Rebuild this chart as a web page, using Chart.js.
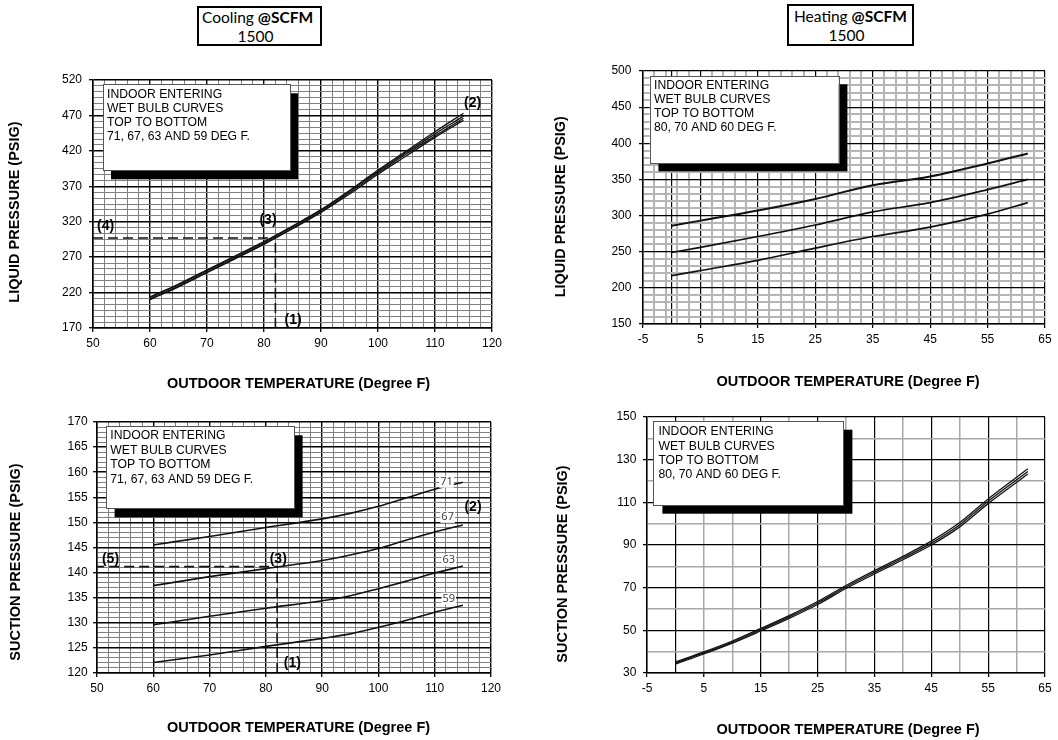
<!DOCTYPE html>
<html lang="en">
<head>
<meta charset="UTF-8">
<title>Cooling / Heating pressure charts @ 1500 SCFM</title>
<script src="https://cdn.jsdelivr.net/npm/chart.js"></script>
<style>
    body { margin: 0; background: #fff; }
    .page { position: relative; width: 1058px; height: 740px; overflow: hidden; }
    .page canvas { position: absolute; display: block; }
    /* "Cooling @SCFM 1500" header boxes */
    .head {
        position: absolute;
        box-sizing: border-box;
        border: 2px solid #000;
        background: #fff;
        font-family: Lato, "Open Sans", sans-serif;
        font-size: 15.5px;
        line-height: 19px;
        color: #000;
    }
    .head .l1 { padding-left: 3px; white-space: nowrap; }
    .head .l2 { text-align: center; padding-right: 8px; }
</style>
</head>
<body>
<div class="page">
    <div class="head" style="left:197px; top:6px; width:125px; height:40px;">
        <div class="l1">Cooling <b>@SCFM</b></div>
        <div class="l2">1500</div>
    </div>
    <div class="head" style="left:787px; top:4px; width:127px; height:42px;">
        <div class="l1" style="padding-left:5px; padding-top:1px;">Heating <b>@SCFM</b></div>
        <div class="l2">1500</div>
    </div>
    <canvas id="coolLiquid" width="529" height="395" style="left:0; top:0;"></canvas>
    <canvas id="heatLiquid" width="529" height="395" style="left:529px; top:0;"></canvas>
    <canvas id="coolSuction" width="529" height="345" style="left:0; top:395px;"></canvas>
    <canvas id="heatSuction" width="529" height="345" style="left:529px; top:395px;"></canvas>
</div>

<script>
    // ---- data ----

    // cooling, liquid pressure (PSIG), wet bulb 71/67/63/59
    const coolTemps = [60, 65, 70, 75, 80, 85, 90, 95, 100, 105, 110, 115];
    const coolLiquid71 = [214, 232, 252, 272, 292, 314, 337, 364, 393, 420, 447, 473];
    const coolLiquid67 = [213, 231, 251, 271, 291, 313, 336, 363, 391, 418, 444, 469];
    const coolLiquid63 = [211, 229, 249, 269, 289, 311, 334, 361, 389, 416, 441, 466];
    const coolLiquid59 = [210, 228, 248, 268, 288, 310, 333, 359, 387, 413, 439, 463];

    // cooling, suction pressure (PSIG)
    const coolSuctionTemps = [60, 70, 80, 90, 95, 100, 105, 110, 115];
    const coolSuction71 = [145.5, 147.2, 149.0, 150.7, 151.8, 153.2, 154.9, 156.6, 158.0];
    const coolSuction67 = [137.4, 139.2, 140.8, 142.4, 143.5, 144.8, 146.5, 148.1, 149.5];
    const coolSuction63 = [129.6, 131.3, 132.9, 134.4, 135.4, 136.8, 138.3, 139.9, 141.3];
    const coolSuction59 = [122.1, 123.6, 125.3, 126.9, 127.8, 129.1, 130.5, 132.1, 133.5];

    // heating, liquid pressure (PSIG), wet bulb 80/70/60
    const heatTemps = [0, 5, 15, 25, 35, 45, 55, 62];
    const heatLiquid80 = [286, 293, 307, 323, 342, 354, 372, 386];
    const heatLiquid70 = [249, 256, 271, 287, 305, 318, 336, 350];
    const heatLiquid60 = [217, 224, 238, 255, 271, 284, 302, 318];

    // heating, suction pressure (PSIG)
    const heatSuctionTemps = [0, 5, 10, 15, 20, 25, 30, 35, 40, 45, 50, 55, 62];
    const heatSuction80 = [35.2, 39.9, 45.0, 50.9, 56.9, 63.5, 71.0, 78.0, 84.7, 91.8, 100.5, 111.6, 125.7];
    const heatSuction70 = [34.7, 39.4, 44.5, 50.3, 56.3, 62.8, 70.3, 77.2, 83.9, 90.9, 99.5, 110.5, 124.5];
    const heatSuction60 = [34.2, 38.9, 44.0, 49.7, 55.6, 62.1, 69.6, 76.4, 83.1, 90.0, 98.5, 109.4, 123.3];

    // worked example guide lines: [outdoor temp, pressure]
    const coolLiquidGuide = [82, 297];
    const coolSuctionGuide = [82, 141.2];

    // tick labels
    const coolTempLabels = [50, 60, 70, 80, 90, 100, 110, 120];
    const heatTempLabels = [-5, 5, 15, 25, 35, 45, 55, 65];
    const coolLiquidLabels = [170, 220, 270, 320, 370, 420, 470, 520];
    const coolSuctionLabels = [120, 125, 130, 135, 140, 145, 150, 155, 160, 165, 170];
    const heatLiquidLabels = [150, 200, 250, 300, 350, 400, 450, 500];
    const heatSuctionLabels = [30, 50, 70, 90, 110, 130, 150];

    const coolNote = ['INDOOR ENTERING', 'WET BULB CURVES', 'TOP TO BOTTOM', '71, 67, 63 AND 59 DEG F.'];
    const heatNote = ['INDOOR ENTERING', 'WET BULB CURVES', 'TOP TO BOTTOM', '80, 70 AND 60 DEG F.'];

    const ARIAL = '"Liberation Sans", Arial, sans-serif';

    // evenly spaced grid positions (minor gridlines)
    function steps(min, max, n) {
        const out = [];
        for (let i = 0; i <= n; i++) out.push(min + (max - min) * i / n);
        return out;
    }
    const near = (list, v) => list.some(t => Math.abs(t - v) < 1e-6);

    function curve(xs, ys, width) {
        return {
            data: xs.map((x, i) => ({ x: x, y: ys[i] })),
            borderColor: '#111',
            borderWidth: width,
            pointRadius: 0,
            cubicInterpolationMode: 'monotone',
            fill: false
        };
    }

    function guide(g, xMin, yMin) {
        const style = { borderColor: '#111', borderWidth: 1.6, borderDash: [10, 5], pointRadius: 0, tension: 0, fill: false };
        return [
            Object.assign({ data: [{ x: xMin, y: g[1] }, { x: g[0], y: g[1] }] }, style),
            Object.assign({ data: [{ x: g[0], y: yMin }, { x: g[0], y: g[1] }] }, style)
        ];
    }

    // boxes, axis titles and callouts
    const notesPlugin = {
        id: 'notes',
        beforeDatasetsDraw(chart) {
            const o = chart.options.plugins.notes;
            const ctx = chart.ctx, a = chart.chartArea, b = o.box;
            const bx = a.left + b.dx, by = a.top + b.dy;
            ctx.save();
            ctx.fillStyle = '#000';
            ctx.fillRect(bx + b.sx, by + b.sy, b.w, b.h);
            ctx.fillStyle = '#fff';
            ctx.fillRect(bx, by, b.w, b.h);
            ctx.strokeStyle = '#555';
            ctx.lineWidth = 1;
            ctx.strokeRect(Math.round(bx) + 0.5, Math.round(by) + 0.5, b.w, b.h);
            ctx.fillStyle = '#000';
            ctx.font = '12.2px ' + ARIAL;
            ctx.textBaseline = 'middle';
            b.lines.forEach((t, i) => ctx.fillText(t, bx + b.tx, by + b.ty + i * b.gap));
            ctx.restore();
        },
        afterDraw(chart) {
            const o = chart.options.plugins.notes;
            const ctx = chart.ctx;
            ctx.save();
            ctx.fillStyle = '#000';
            ctx.textAlign = 'center';
            ctx.textBaseline = 'middle';
            ctx.font = 'bold 14.5px ' + ARIAL;
            ctx.fillText(o.xTitle.text, o.xTitle.x, o.xTitle.y);
            ctx.save();
            ctx.translate(o.yTitle.x, o.yTitle.y);
            ctx.rotate(-Math.PI / 2);
            ctx.fillText(o.yTitle.text, 0, 0);
            ctx.restore();
            (o.marks || []).forEach(m => {
                const px = chart.scales.x.getPixelForValue(m.x);
                const py = chart.scales.y.getPixelForValue(m.y);
                ctx.font = m.small ? '11px "Open Sans", sans-serif' : 'bold 14px ' + ARIAL;
                if (m.small) {
                    const w = ctx.measureText(m.text).width;
                    ctx.fillStyle = '#fff';
                    ctx.fillRect(px - w / 2 - 1, py - 6, w + 2, 12);
                    ctx.fillStyle = '#333';
                } else {
                    ctx.fillStyle = '#000';
                }
                ctx.fillText(m.text, px, py);
            });
            ctx.restore();
        }
    };

    function axis(s, cfg) {
        return {
            type: 'linear',
            min: s.min,
            max: s.max,
            afterBuildTicks: (scale) => { scale.ticks = s.grid.map(v => ({ value: v })); },
            afterFit: (scale) => {
                if (scale.isHorizontal()) scale.height = cfg.xHeight; else scale.width = cfg.yWidth;
            },
            ticks: {
                autoSkip: false,
                maxRotation: 0,
                padding: s.pad,
                color: '#000',
                font: { family: ARIAL, size: 12 },
                callback: (v) => near(s.labels, v) ? String(Math.round(v)) : ''
            },
            grid: {
                color: (c) => near(s.dark, c.tick.value) ? '#000' : cfg.minorColor,
                lineWidth: (c) => near(s.dark, c.tick.value) ? cfg.majorWidth : cfg.minorWidth,
                tickColor: (c) => near(s.labels, c.tick.value) ? '#000' : 'rgba(0,0,0,0)',
                tickLength: 4,
                tickWidth: 1.3
            },
            border: { display: true, color: '#000', width: 1.5 }
        };
    }

    function makeChart(id, cfg) {
        new Chart(document.getElementById(id), {
            type: 'line',
            data: { datasets: cfg.datasets },
            options: {
                responsive: false,
                animation: false,
                events: [],
                layout: { padding: { left: 0, top: cfg.top, right: cfg.right, bottom: 0 } },
                scales: { x: axis(cfg.x, cfg), y: axis(cfg.y, cfg) },
                plugins: {
                    legend: { display: false },
                    tooltip: { enabled: false },
                    notes: cfg.notes
                }
            },
            plugins: [notesPlugin]
        });
    }

    // ---- cooling: liquid pressure ----
    makeChart('coolLiquid', {
        top: 80, right: 37, yWidth: 93, xHeight: 67,
        minorColor: '#808080', minorWidth: 1, majorWidth: 1.4,
        x: { min: 50, max: 120, grid: steps(50, 120, 35), labels: coolTempLabels, dark: coolTempLabels, pad: 4 },
        y: { min: 170, max: 520, grid: steps(170, 520, 42), labels: coolLiquidLabels, dark: coolLiquidLabels, pad: 7 },
        datasets: [
            curve(coolTemps, coolLiquid71, 1.3),
            curve(coolTemps, coolLiquid67, 1.3),
            curve(coolTemps, coolLiquid63, 1.3),
            curve(coolTemps, coolLiquid59, 1.3)
        ].concat(guide(coolLiquidGuide, 50, 170)),
        notes: {
            box: { dx: 10, dy: 4.3, w: 187, h: 86, sx: 8, sy: 9, tx: 4, ty: 10.7, gap: 14, lines: coolNote },
            yTitle: { text: 'LIQUID PRESSURE (PSIG)', x: 15, y: 212 },
            xTitle: { text: 'OUTDOOR TEMPERATURE (Degree F)', x: 298.5, y: 383.5 },
            marks: [
                { text: '(1)', x: 85.1, y: 181 },
                { text: '(2)', x: 116.6, y: 487.5 },
                { text: '(3)', x: 80.7, y: 322 },
                { text: '(4)', x: 52.2, y: 313.7 }
            ]
        }
    });

    // ---- heating: liquid pressure ----
    makeChart('heatLiquid', {
        top: 71, right: 13, yWidth: 114, xHeight: 71,
        minorColor: '#b5b5b5', minorWidth: 2, majorWidth: 1.2,
        x: { min: -5, max: 65, grid: steps(-5, 65, 35).concat([0]), labels: heatTempLabels, dark: heatTempLabels.concat([0]), pad: 4 },
        y: { min: 150, max: 500, grid: steps(150, 500, 35), labels: heatLiquidLabels, dark: heatLiquidLabels, pad: 7.6 },
        datasets: [
            curve(heatTemps, heatLiquid80, 2),
            curve(heatTemps, heatLiquid70, 1.7),
            curve(heatTemps, heatLiquid60, 1.7)
        ],
        notes: {
            box: { dx: 6.7, dy: 5, w: 189, h: 87, sx: 8.7, sy: 8.3, tx: 4.3, ty: 10, gap: 14, lines: heatNote },
            yTitle: { text: 'LIQUID PRESSURE (PSIG)', x: 31.7, y: 206.7 },
            xTitle: { text: 'OUTDOOR TEMPERATURE (Degree F)', x: 319, y: 381.7 }
        }
    });

    // ---- cooling: suction pressure ----
    makeChart('coolSuction', {
        top: 27, right: 38, yWidth: 97, xHeight: 67,
        minorColor: '#808080', minorWidth: 1, majorWidth: 1.4,
        x: { min: 50, max: 120, grid: steps(50, 120, 35), labels: coolTempLabels, dark: coolTempLabels, pad: 4.5 },
        y: { min: 120, max: 170, grid: steps(120, 170, 50), labels: coolSuctionLabels, dark: coolSuctionLabels, pad: 5.4 },
        datasets: [
            curve(coolSuctionTemps, coolSuction71, 1.6),
            curve(coolSuctionTemps, coolSuction67, 1.6),
            curve(coolSuctionTemps, coolSuction63, 1.6),
            curve(coolSuctionTemps, coolSuction59, 1.6)
        ].concat(guide(coolSuctionGuide, 49.5, 120)),
        notes: {
            box: { dx: 9.3, dy: 4.3, w: 188, h: 82, sx: 8.3, sy: 9, tx: 4, ty: 9.7, gap: 14.4, lines: coolNote },
            yTitle: { text: 'SUCTION PRESSURE (PSIG)', x: 15.7, y: 167 },
            xTitle: { text: 'OUTDOOR TEMPERATURE (Degree F)', x: 298.5, y: 333.3 },
            marks: [
                { text: '(1)', x: 84.7, y: 121.9 },
                { text: '(2)', x: 116.8, y: 153.1 },
                { text: '(3)', x: 82.2, y: 142.7 },
                { text: '(5)', x: 52.4, y: 142.7 },
                { text: '71', x: 112.1, y: 158.1, small: true },
                { text: '67', x: 112.3, y: 151.1, small: true },
                { text: '63', x: 112.5, y: 142.5, small: true },
                { text: '59', x: 112.5, y: 134.8, small: true }
            ]
        }
    });

    // ---- heating: suction pressure ----
    makeChart('heatSuction', {
        top: 22, right: 13, yWidth: 118, xHeight: 67,
        minorColor: '#a8a8a8', minorWidth: 1.5, majorWidth: 1.2,
        x: { min: -5, max: 65, grid: steps(-5, 65, 14), labels: heatTempLabels, dark: [-5, 0, 15, 25, 35, 45, 55, 65], pad: 4 },
        y: { min: 30, max: 150, grid: steps(30, 150, 12), labels: heatSuctionLabels, dark: heatSuctionLabels, pad: 6.6 },
        datasets: [
            curve(heatSuctionTemps, heatSuction80, 1.3),
            curve(heatSuctionTemps, heatSuction70, 1.3),
            curve(heatSuctionTemps, heatSuction60, 1.3)
        ],
        notes: {
            box: { dx: 6.4, dy: 4.4, w: 190, h: 84, sx: 9, sy: 8.3, tx: 5, ty: 10.6, gap: 14.2, lines: heatNote },
            yTitle: { text: 'SUCTION PRESSURE (PSIG)', x: 33.5, y: 169 },
            xTitle: { text: 'OUTDOOR TEMPERATURE (Degree F)', x: 319, y: 335 }
        }
    });
</script>
</body>
</html>
